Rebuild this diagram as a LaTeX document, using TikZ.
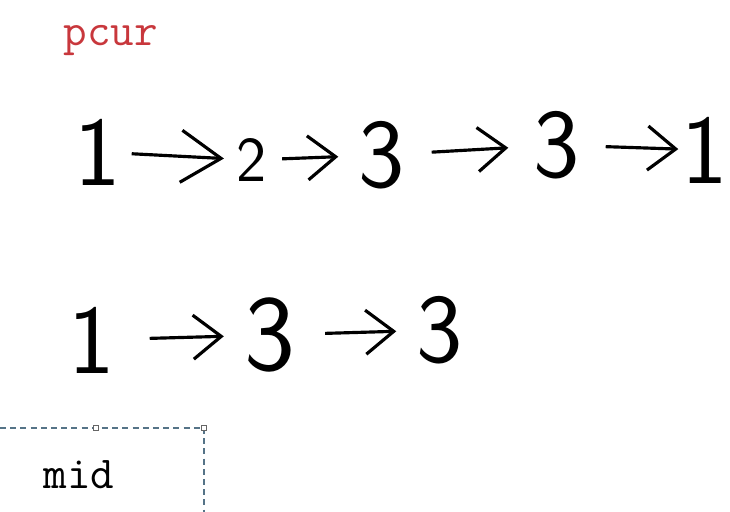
\documentclass[tikz,border=0pt]{standalone}
\usepackage{tikz}
\usetikzlibrary{arrows.meta}
\definecolor{pcurred}{RGB}{200,55,60}
\definecolor{boxline}{RGB}{85,115,135}

\begin{document}
\begin{tikzpicture}[x=0.01cm,y=-0.01cm,->,>={Straight Barb[length=0.28cm,width=0.44cm]},line width=0.9pt,
                digit/.style={inner sep=0pt,font=\fontsize{28}{30}\selectfont\sffamily},
                label/.style={anchor=base west,inner sep=0pt,font=\fontsize{13}{15}\selectfont\ttfamily},
                handle/.style={draw=gray!80!black,fill=white,line width=0.5pt,minimum size=0.05cm,inner sep=0pt}]
                \useasboundingbox (0,0) rectangle (730,512);
                \node[label,text=pcurred](pcur)at(62, 45){pcur};
                % first list
                \node[digit](a1)at(98, 152){1};
                \node[digit,scale=0.65](a2)at(252, 160){2};
                \node[digit](a3)at(382, 155){3};
                \node[digit](a4)at(557, 145){3};
                \node[digit](a5)at(705, 150){1};
                % second list
                \node[digit](b1)at(92, 340){1};
                \node[digit,scale=1.1](b2)at(270, 335){3};
                \node[digit](b3)at(440, 330){3};
                \path[](a1) edge[shorten <=0.09cm,shorten >=0.12cm,>={Straight Barb[length=0.4cm,width=0.52cm]}] (a2)
                (a2) edge[shorten <=0.14cm,shorten >=0.19cm] (a3)
                (a3) edge[shorten <=0.25cm,shorten >=0.24cm] (a4)
                (a4) edge[shorten <=0.24cm,shorten >=0.02cm] (a5)
                (b1) edge[shorten <=0.33cm,shorten >=0.19cm] (b2)
                (b2) edge[shorten <=0.28cm,shorten >=0.19cm] (b3);
                % selection box
                \draw[-,boxline,line width=0.6pt,dash pattern=on 1.7pt off 1.2pt](0, 428) -| (204, 512);
                \node[handle](h1)at(96, 428){};
                \node[handle](h2)at(204, 428){};
                \node[label](mid)at(42, 488){mid};
            \end{tikzpicture}
\end{document}
